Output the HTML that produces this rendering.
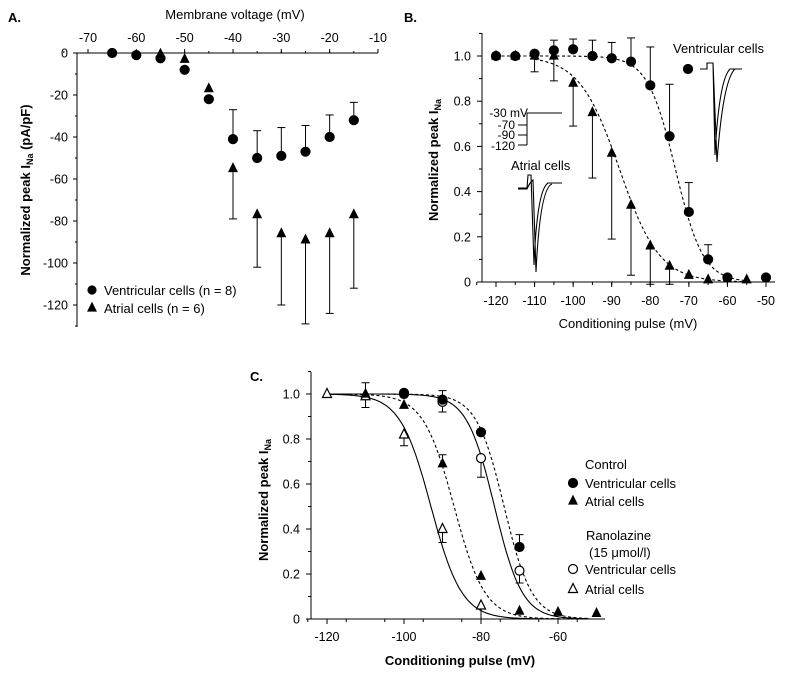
<!DOCTYPE html>
<html><head><meta charset="utf-8"><style>
html,body{margin:0;padding:0;background:#fff;}
svg{display:block;font-family:"Liberation Sans",sans-serif;}
</style></head><body>
<svg id="fig" width="785" height="675" viewBox="0 0 785 675" xmlns="http://www.w3.org/2000/svg"></svg>
<script>
// ---- Panel A data ----
const aVentV = [-65,-60,-55,-50,-45,-40,-35,-30,-25,-20,-15];
const aVentI = [0,-1,-2.5,-8,-22,-41,-50,-49,-47,-40,-32];
const aVentErr = [0,0,0,0,0,14,13,13.5,12.5,10.5,8.5];
const aAtrV = [-55,-50,-45,-40,-35,-30,-25,-20,-15];
const aAtrI = [-0.5,-3,-17,-55,-77,-86,-89,-86,-77];
const aAtrErr = [0,0,0,24,25,34,40,38,35];
const aXTicks = [-70,-60,-50,-40,-30,-20,-10];
const aYTicks = [0,-20,-40,-60,-80,-100,-120];
// ---- Panel B data ----
const bVentV = [-120,-115,-110,-105,-100,-95,-90,-85,-80,-75,-70,-65,-60,-50];
const bVentI = [1.0,1.0,1.01,1.025,1.03,1.0,0.99,0.975,0.87,0.645,0.31,0.10,0.02,0.02];
const bVentErr = [0,0,0,0.045,0.045,0.07,0.07,0.105,0.17,0.23,0.13,0.065,0,0];
const bAtrV = [-120,-115,-110,-105,-100,-95,-90,-85,-80,-75,-70,-65,-55];
const bAtrI = [1.0,1.0,1.0,1.0,0.88,0.75,0.57,0.34,0.16,0.07,0.03,0.01,0.01];
const bAtrErr = [0,0,0.07,0.11,0.19,0.29,0.38,0.31,0.17,0.08,0,0,0];
const bFitVent = [-73.5,3.6];
const bFitAtr = [-88,5.2];
const bXTicks = [-120,-110,-100,-90,-80,-70,-60,-50];
const bYTicks = [0,0.2,0.4,0.6,0.8,1.0];
// ---- Panel C data ----
const cCtlVentV = [-100,-90,-80,-70];
const cCtlVentI = [1.005,0.975,0.83,0.32];
const cCtlVentErr = [0,0.04,0,0.055];
const cCtlAtrV = [-110,-100,-90,-80,-70,-60,-50];
const cCtlAtrI = [1.0,0.95,0.69,0.19,0.035,0.03,0.025];
const cCtlAtrErr = [0.05,0,0.04,0,0,0,0];
const cRanVentV = [-100,-90,-80,-70];
const cRanVentI = [1.0,0.965,0.715,0.215];
const cRanVentErr = [0,0.045,0.085,0.055];
const cRanAtrV = [-120,-110,-100,-90,-80];
const cRanAtrI = [1.0,0.99,0.82,0.40,0.06];
const cRanAtrErr = [0,0.05,0.05,0.06,0.06];
const cFitCtlVent = [-74,3.6];
const cFitCtlAtr = [-87,4.0];
const cFitRanVent = [-76.5,3.6];
const cFitRanAtr = [-93,4.0];
const cXTicks = [-120,-100,-80,-60];
const cYTicks = [0,0.2,0.4,0.6,0.8,1.0];

const NS="http://www.w3.org/2000/svg";
const svg=document.getElementById('fig');
function mk(tag,attrs,parent,text){const e=document.createElementNS(NS,tag);for(const k in attrs)e.setAttribute(k,attrs[k]);if(text!==undefined)e.textContent=text;(parent||svg).appendChild(e);return e;}
function grp(name){const g=mk('g',{});


return g;}
function line(g,x1,y1,x2,y2,w){return mk('line',{x1,y1,x2,y2,stroke:'#000','stroke-width':w||1},g);}
function txt(g,x,y,s,anchor,size,weight,name){const t=mk('text',{x,y,'text-anchor':anchor||'middle','font-size':size||13,'font-weight':weight||'normal',fill:'#000'},g,s);


return t;}
function marker(g,type,x,y,r){
  r=r||5;let m;
  if(type==='circle'||type==='ocircle'){m=mk('circle',{cx:x,cy:y,r:r,fill:type==='circle'?'#000':'#fff',stroke:'#000','stroke-width':1.2},g);}
  else{m=mk('polygon',{points:`${x},${y-r-1} ${x-r},${y+r-1} ${x+r},${y+r-1}`,fill:type==='tri'?'#000':'#fff',stroke:'#000','stroke-width':1.2},g);}
  
  
}
function errBar(g,x,y1,y2){line(g,x,y1,x,y2,1);line(g,x-4,y2,x+4,y2,1);}
function boltz(v,p){return 1/(1+Math.exp((v-p[0])/p[1]));}
function fitPath(g,sx,sy,p,v0,v1,dash,name){let d='';for(let v=v0;v<=v1+0.001;v+=0.5){d+=(d?'L':'M')+sx(v).toFixed(1)+','+sy(boltz(v,p)).toFixed(1);}
const pth=mk('path',{d,fill:'none',stroke:'#000','stroke-width':1.1,'stroke-dasharray':dash?'3,2.5':'none'},g);

}

// ===== Panel A =====
(function(){
 const g=grp('panel-a');
 const sx=v=>88+(v+70)*4.833, sy=i=>53-i*2.1;
 txt(g,8,22,'A.','start',13,'bold','panel-a-label');
 txt(g,235,19,'Membrane voltage (mV)','middle',13,'normal','x-axis-title');
 line(g,77,53,sx(-10),53);
 line(g,77,53,77,327);
 aXTicks.forEach(v=>{line(g,sx(v),53,sx(v),49);txt(g,sx(v),42,String(v),'middle',12.5,'normal','x-tick-label');});
 for(let v=-75;v<=-10;v+=5)line(g,sx(v),53,sx(v),51);
 aYTicks.forEach(v=>{line(g,77,sy(v),73,sy(v));txt(g,68,sy(v)+4.5,String(v),'end',12.5,'normal','y-tick-label');});
 for(let v=-10;v>=-130;v-=20)line(g,77,sy(v),75,sy(v));
 const yl=mk('text',{transform:'translate(30,190) rotate(-90)','text-anchor':'middle','font-size':13,'font-weight':'bold'},g);
 
 
 yl.innerHTML='Normalized peak I<tspan font-size="9" dy="3">Na</tspan><tspan dy="-3"> (pA/pF)</tspan>';
 aVentV.forEach((v,i)=>{if(aVentErr[i])errBar(g,sx(v),sy(aVentI[i]),sy(aVentI[i]+aVentErr[i]));});
 aAtrV.forEach((v,i)=>{if(aAtrErr[i])errBar(g,sx(v),sy(aAtrI[i]),sy(aAtrI[i]-aAtrErr[i]));});
 aVentV.forEach((v,i)=>marker(g,'circle',sx(v),sy(aVentI[i]),4.5));
 aAtrV.forEach((v,i)=>marker(g,'tri',sx(v),sy(aAtrI[i]),4));
 marker(g,'circle',92,290,4);txt(g,104,295,'Ventricular cells (n = 8)','start',13,'normal','legend-ventricular');
 marker(g,'tri',92,308,4);txt(g,104,313,'Atrial cells (n = 6)','start',13,'normal','legend-atrial');
})();

// ===== Panel B =====
(function(){
 const g=grp('panel-b');
 const sx=v=>496+(v+120)*3.857, sy=i=>282-i*226;
 txt(g,404,22,'B.','start',13,'bold','panel-b-label');
 line(g,482,33,482,282);line(g,482,282,775,282);
 bXTicks.forEach(v=>{line(g,sx(v),282,sx(v),287);txt(g,sx(v),305,String(v),'middle',12.5,'normal','x-tick-label');});
 for(let v=-125;v<=-50;v+=5)line(g,sx(v),282,sx(v),285);
 bYTicks.forEach(v=>{line(g,482,sy(v),477,sy(v));txt(g,471,sy(v)+4.5,v===0?'0':v.toFixed(1),'end',12.5,'normal','y-tick-label');});
 for(let v=0.1;v<1.15;v+=0.2)line(g,482,sy(v),479,sy(v));
 txt(g,628,328,'Conditioning pulse (mV)','middle',13,'normal','x-axis-title');
 const yl=mk('text',{transform:'translate(438,160) rotate(-90)','text-anchor':'middle','font-size':13,'font-weight':'bold'},g);
 
 
 yl.innerHTML='Normalized peak I<tspan font-size="9" dy="3">Na</tspan>';
 fitPath(g,sx,sy,bFitVent,-120,-55,true,'fit-ventricular');
 fitPath(g,sx,sy,bFitAtr,-110,-55,true,'fit-atrial');
 bVentV.forEach((v,i)=>{if(bVentErr[i])errBar(g,sx(v),sy(bVentI[i]),sy(bVentI[i]+bVentErr[i]));});
 bAtrV.forEach((v,i)=>{if(bAtrErr[i])errBar(g,sx(v),sy(bAtrI[i]),sy(bAtrI[i]-bAtrErr[i]));});
 bVentV.forEach((v,i)=>marker(g,'circle',sx(v),sy(bVentI[i]),4.5));
 bAtrV.forEach((v,i)=>marker(g,'tri',sx(v),sy(bAtrI[i]),4));
 // insets
 txt(g,673,53,'Ventricular cells','start',13,'normal','inset-ventricular-label');
 marker(g,'circle',688,69,4.5);
 mk('path',{d:'M700,69 L707,69 L707,63 L713,63 L715,155 Q719,80 730,69 L742,69 M713,63 L717,162 Q723,80 735,69',fill:'none',stroke:'#000','stroke-width':1.1},g);
 txt(g,511,170,'Atrial cells','start',13,'normal','inset-atrial-label');
 mk('path',{d:'M518,188 L527,188 L528,175 L531,175 L534,265 Q537,190 548,183 L562,183 M518,189 L527,189 Q530,182 533,180 L536,272 Q540,188 552,184',fill:'none',stroke:'#000','stroke-width':1.1},g);
 txt(g,528,117,'-30 mV','end',12,'normal','protocol-label');
 txt(g,515,129,'-70','end',12,'normal','protocol-label');
 txt(g,515,139,'-90','end',12,'normal','protocol-label');
 txt(g,515,150,'-120','end',12,'normal','protocol-label');
 mk('path',{d:'M518,125 L527,125 M518,135 L527,135 M518,145 L527,145 M527,145 L527,113 L562,113',fill:'none',stroke:'#000','stroke-width':1},g);
})();

// ===== Panel C =====
(function(){
 const g=grp('panel-c');
 const sx=v=>327+(v+120)*3.85, sy=i=>619-i*225;
 txt(g,250,381,'C.','start',13,'bold','panel-c-label');
 line(g,311,372,311,619);line(g,311,619,605,619);
 cXTicks.forEach(v=>{line(g,sx(v),619,sx(v),624);txt(g,sx(v),641,String(v),'middle',12.5,'normal','x-tick-label');});
 for(let v=-125;v<=-50;v+=10)line(g,sx(v),619,sx(v),622);
 cYTicks.forEach(v=>{line(g,311,sy(v),306,sy(v));txt(g,300,sy(v)+4.5,v===0?'0':v.toFixed(1),'end',12.5,'normal','y-tick-label');});
 for(let v=0.1;v<1.15;v+=0.2)line(g,311,sy(v),308,sy(v));
 txt(g,460,665,'Conditioning pulse (mV)','middle',13,'bold','x-axis-title');
 const yl=mk('text',{transform:'translate(268,500) rotate(-90)','text-anchor':'middle','font-size':13,'font-weight':'bold'},g);
 
 
 yl.innerHTML='Normalized peak I<tspan font-size="9" dy="3">Na</tspan>';
 fitPath(g,sx,sy,cFitCtlVent,-120,-52,true,'fit-control-ventricular');
 fitPath(g,sx,sy,cFitCtlAtr,-120,-52,true,'fit-control-atrial');
 fitPath(g,sx,sy,cFitRanVent,-120,-52,false,'fit-ranolazine-ventricular');
 fitPath(g,sx,sy,cFitRanAtr,-120,-52,false,'fit-ranolazine-atrial');
 cCtlVentV.forEach((v,i)=>{if(cCtlVentErr[i])errBar(g,sx(v),sy(cCtlVentI[i]),sy(cCtlVentI[i]+cCtlVentErr[i]));});
 cCtlAtrV.forEach((v,i)=>{if(cCtlAtrErr[i])errBar(g,sx(v),sy(cCtlAtrI[i]),sy(cCtlAtrI[i]+cCtlAtrErr[i]));});
 cRanVentV.forEach((v,i)=>{if(cRanVentErr[i])errBar(g,sx(v),sy(cRanVentI[i]),sy(cRanVentI[i]-cRanVentErr[i]));});
 cRanAtrV.forEach((v,i)=>{if(cRanAtrErr[i])errBar(g,sx(v),sy(cRanAtrI[i]),sy(cRanAtrI[i]-cRanAtrErr[i]));});
 cRanVentV.forEach((v,i)=>marker(g,'ocircle',sx(v),sy(cRanVentI[i]),4.5));
 cRanAtrV.forEach((v,i)=>marker(g,'otri',sx(v),sy(cRanAtrI[i]),4.5));
 cCtlVentV.forEach((v,i)=>marker(g,'circle',sx(v),sy(cCtlVentI[i]),4.5));
 cCtlAtrV.forEach((v,i)=>marker(g,'tri',sx(v),sy(cCtlAtrI[i]),4));
 txt(g,585,469,'Control','start',13,'normal','legend-control-title');
 marker(g,'circle',573,483,4.5);txt(g,585,488,'Ventricular cells','start',13,'normal','legend-control-ventricular');
 marker(g,'tri',573,501,4);txt(g,585,506,'Atrial cells','start',13,'normal','legend-control-atrial');
 txt(g,586,540,'Ranolazine','start',13,'normal','legend-ranolazine-title');
 txt(g,589,557,'(15 \u03bcmol/l)','start',13,'normal','legend-ranolazine-dose');
 marker(g,'ocircle',573,569,4.5);txt(g,585,574,'Ventricular cells','start',13,'normal','legend-ranolazine-ventricular');
 marker(g,'otri',573,589,4.5);txt(g,585,594,'Atrial cells','start',13,'normal','legend-ranolazine-atrial');
})();
</script>
</body></html>
